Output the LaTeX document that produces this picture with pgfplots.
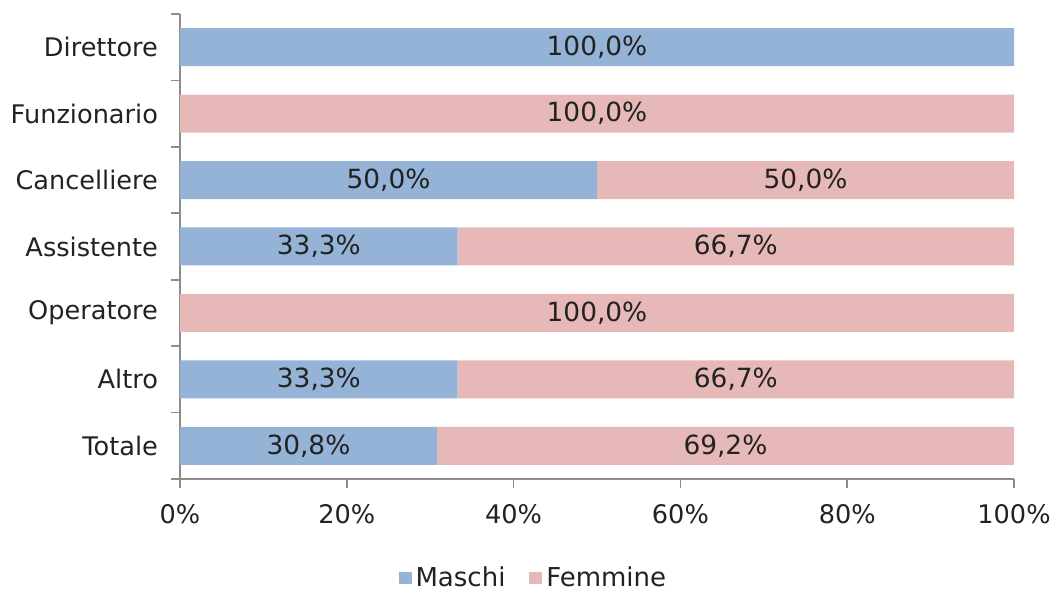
\documentclass[border=0pt]{standalone}
\usepackage{fontspec}
\setmainfont{DejaVu Sans}
\usepackage{pgfplots}
\pgfplotsset{compat=1.18}
\usepackage{pgfplotstable}
\usetikzlibrary{calc}

\definecolor{maschi}{HTML}{95B3D7}
\definecolor{femmine}{HTML}{E6B9B8}
\definecolor{axisgray}{HTML}{8C8C8C}
\definecolor{txt}{HTML}{222222}

% position 0 = Totale (bottom) ... 6 = Direttore (top)
\pgfplotstableread{
pos val
0 30.8
1 33.3
2 0
3 33.3
4 50
5 0
6 100
}\maschitab
\pgfplotstableread{
pos val
0 69.2
1 66.7
2 100
3 66.7
4 50
5 100
6 0
}\femminetab

\begin{document}
\begin{tikzpicture}[font=\fontsize{12.8}{15}\selectfont, every node/.style={text=txt}]
\begin{axis}[
  scale only axis, width=417pt, height=232.5pt,
  xbar stacked, bar width=19pt,
  xmin=0, xmax=100, ymin=-0.5, ymax=6.5,
  axis x line*=bottom, axis y line*=left,
  axis line style={-, draw=axisgray, line width=0.8pt},
  tick align=outside, major tick length=4.5pt,
  tick style={draw=axisgray, line width=0.8pt},
  xtick={0,20,40,60,80,100},
  xticklabel={\pgfmathprintnumber{\tick}\%},
  /pgf/number format/assume math mode=true,
  xticklabel style={yshift=-4.5pt},
  ytick={-0.5,0.5,1.5,2.5,3.5,4.5,5.5,6.5},
  y tick label as interval,
  yticklabels={Totale,Altro,Operatore,Assistente,Cancelliere,Funzionario,Direttore},
  yticklabel style={xshift=-3pt},
  point meta=explicit,
  nodes near coords={\pgfmathfloatifflags{\pgfplotspointmeta}{0}{}{\pgfmathprintnumber[fixed,fixed zerofill,precision=1,use comma]{\pgfplotspointmeta}\%}},
  every node near coord/.append style={text=txt, font=\fontsize{13.2}{15}\selectfont},
  legend style={draw=none, fill=none, at={(0.425,-0.213)}, anchor=center,
    legend columns=2, font=\fontsize{13}{15}\selectfont,
    /tikz/every even column/.append style={column sep=10pt}},
  clip=false,
]
\addplot[fill=maschi, draw=none,
  legend image code/.code={\fill[maschi] (2.5pt,-3.2pt) rectangle (8.9pt,3.2pt);}]
  table[x=val, y=pos, meta=val] {\maschitab};
\addlegendentry{Maschi}
\addplot[fill=femmine, draw=none,
  legend image code/.code={\fill[femmine] (2.5pt,-3.2pt) rectangle (8.9pt,3.2pt);}]
  table[x=val, y=pos, meta=val] {\femminetab};
\addlegendentry{Femmine}
\coordinate (bl) at (rel axis cs:0,0);
\coordinate (tr) at (rel axis cs:1,1);
\end{axis}
\pgfresetboundingbox
\useasboundingbox ($(bl)+(-90pt,-56.5pt)$) rectangle ($(tr)+(20.5pt,7pt)$);
\end{tikzpicture}
\end{document}
